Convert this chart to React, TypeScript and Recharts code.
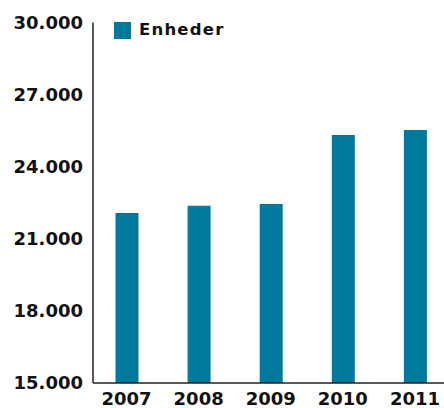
import React from 'react';
import { BarChart, Bar, XAxis, YAxis } from 'recharts';

const years = ['2007', '2008', '2009', '2010', '2011'];
const units = [22070, 22370, 22450, 25320, 25530];
const yTicks = [15000, 18000, 21000, 24000, 27000, 30000];
const seriesName = 'Enheder';

const data = years.map((y, i) => ({ year: y, value: units[i] }));

const BAR_COLOR = '#01799C';
const FONT = '"DejaVu Sans", sans-serif';

const fmt = (v: number) => v.toLocaleString('de-DE');

export default function App() {
  return (
    <div style={{ position: 'absolute', left: 0, top: 0, width: 444, height: 408, overflow: 'hidden', background: '#fff' }}>
      <BarChart
        width={451}
        height={408}
        data={data}
        margin={{ top: 22.5, right: 0, bottom: 0, left: 0 }}
        barSize={23}
      >
        <YAxis
          type="number"
          domain={[15000, 30000]}
          ticks={yTicks}
          allowDataOverflow
          width={93}
          tickLine={false}
          tickMargin={4}
          axisLine={{ stroke: '#222', strokeWidth: 1.5 }}
          tickFormatter={fmt}
          tick={{ fill: '#111', fontFamily: FONT, fontWeight: 'bold', fontSize: 18 }}
          interval={0}
        />
        <XAxis
          dataKey="year"
          height={25}
          padding={{ left: -2.5, right: 0 }}
          tickLine={false}
          tickMargin={3}
          axisLine={{ stroke: '#222', strokeWidth: 1.5 }}
          tick={{ fill: '#111', fontFamily: FONT, fontWeight: 'bold', fontSize: 18 }}
          interval={0}
        />
        <Bar dataKey="value" name={seriesName} fill={BAR_COLOR} isAnimationActive={false} />
      </BarChart>
      <div style={{ position: 'absolute', left: 114, top: 22, width: 17, height: 17, background: BAR_COLOR }} />
      <div
        style={{
          position: 'absolute',
          left: 139,
          top: 21.5,
          fontFamily: FONT,
          fontWeight: 'bold',
          fontSize: 16.5,
          lineHeight: '16.5px',
          letterSpacing: 1.2,
          color: '#111',
          whiteSpace: 'nowrap',
        }}
      >
        {seriesName}
      </div>
    </div>
  );
}
